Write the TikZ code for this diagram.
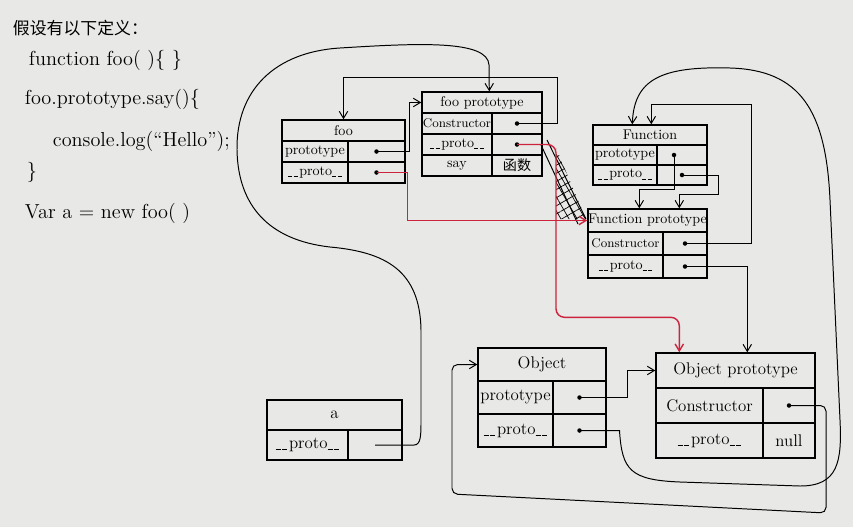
\documentclass[tikz,border=0pt]{standalone}
\usepackage{fontspec}
\newfontfamily\cjk{Noto Sans CJK SC}
\usetikzlibrary{arrows.meta,calc,fit,patterns.meta}
\definecolor{paper}{RGB}{232,232,230}
\definecolor{redpen}{RGB}{205,35,60}
\tikzset{
	cell/.style={draw, line width=1pt, inner sep=0pt},
	link/.style={line width=0.7pt, -{Straight Barb[length=5pt,width=6pt]}},
	redlink/.style={link, draw=redpen, line width=1pt},
	code/.style={anchor=west, font=\Large},
}
% short hand drawn underscores
\newcommand{\us}{\rule[-1pt]{0.3em}{0.5pt}\hspace{0.1em}}
\newcommand{\proto}{\us\us proto\us\us}
% object box: [font] name, left, divider, right, top, row height, title, key/value rows
\newcommand{\jsobj}[9][\normalsize]{%
	\node[cell, fit={(#3,#6) (#5,#6+#7)}, label={[font=#1]center:#8}] (#2) {};
	\foreach \k/\v [count=\i] in {#9}{
		\node[cell, fit={(#3,#6+\i*#7) (#4,#6+\i*#7+#7)}, label={[font=#1]center:\k}] (#2-k\i) {};
		\node[cell, fit={(#4,#6+\i*#7) (#5,#6+\i*#7+#7)}, label={[font=#1]center:\v}] (#2-v\i) {};
	}%
}

\begin{document}
\begin{tikzpicture}[x=0.025cm, y=-0.025cm]
	\fill[paper] (0,0) rectangle (853,527);
	\useasboundingbox (0,0) rectangle (853,527);
	
	% code
	\node[anchor=west, font=\large\cjk] (title) at (8,28) {假设有以下定义：};
	\node[code] (l1) at (24,60) {function foo( )\{ \}};
	\node[code] (l2) at (20,99) {foo.prototype.say()\{};
	\node[code] (l3) at (48,141) {console.log(“Hello”);};
	\node[code] (l4) at (22,172) {\}};
	\node[code] (l5) at (20,213) {Var a = new foo( )};
	
	% crossed out arrow
	\fill[pattern={Hatch[distance=5pt,angle=30,line width=0.5pt]}] (556,148) -- (586,219) -- (556,219) -- cycle;
	\draw[line width=0.7pt] (547,140) -- (586,219);
	\draw[line width=0.7pt] (541,145) -- (578,224);
	
	% objects
	\jsobj{foo}{282}{348}{405}{120}{21}{foo}{prototype/{}, \proto/{}}
	\jsobj{fooproto}{422}{492}{542}{92}{21}{foo prototype}{{\small Constructor}/{}, \proto/{}, say/{\cjk 函数}}
	\jsobj{F}{593}{657}{707}{125}{20}{Function}{prototype/{}, \proto/{}}
	\jsobj{Fproto}{588}{663}{707}{209}{23}{Function prototype}{{\small Constructor}/{}, \proto/{}}
	\jsobj[\large]{O}{478}{553}{606}{348}{33}{Object}{prototype/{}, \proto/{}}
	\jsobj[\large]{Oproto}{656}{763}{815}{353}{35}{Object prototype}{Constructor/{}, \proto/null}
	\jsobj[\large]{a}{267}{348}{402}{400}{30}{a}{\proto/{}}
	
	% dots
	\foreach \c in {foo-v1,foo-v2,fooproto-v1,fooproto-v2,F-v2,Fproto-v1,Fproto-v2,O-v1,O-v2,Oproto-v1}
	\fill (\c.center) circle (1.6pt);
	\fill ($(F-v1.center)+(-8,0)$) circle (1.6pt);
	
	% foo
	\draw[link] (foo-v1.center) -| ($(fooproto.west)+(-12,0)$) -- (fooproto.west);
	\draw[link] (fooproto-v1.center) -- ++(40,0) |- ($(foo.north)+(0,-42)$) -- (foo.north);
	\draw[redlink] (foo-v2.center) -| ($(Fproto.west)+(-180,0)$) -- (Fproto.west);
	\draw[redlink, rounded corners=6pt] (fooproto-v2.center) -- ++(39,0) |- ($(Oproto.north west)+(24,-35)$) -- ($(Oproto.north west)+(24,0)$);
	
	% Function
	\draw[link] ($(F-v1.center)+(-8,0)$) |- ($(Fproto.north west)+(52,-19)$) -- ($(Fproto.north west)+(52,0)$);
	\draw[link] (F-v2.center) -- ++(36,0) |- ($(Fproto.north west)+(92,-14)$) -- ($(Fproto.north west)+(92,0)$);
	\draw[link] (Fproto-v1.center) -- ++(66,0) |- ($(F.north west)+(59,-20)$) -- ($(F.north west)+(59,0)$);
	\draw[link] (Fproto-v2.center) -| ($(Oproto.north west)+(92,0)$);
	
	% Object
	\draw[link] (O-v1.center) -| ($(Oproto.west)+(-28,0)$) -- (Oproto.west);
	\draw[link] (O-v2.center) -- ++(40,0) .. controls (622,470) and (630,480) .. (680,482) -- (800,486) .. controls (838,486) and (842,462) .. (840,420) -- (830,200) .. controls (826,110) and (800,70) .. (730,68) .. controls (660,66) and (634,80) .. ($(F.north west)+(40,0)$);
	\draw[link, rounded corners=4pt] (Oproto-v1.center) -| (826,513) -- (452,494) |- (O.west);
	
	% a
	\draw[link] (a-v1.center) -- (414,445) .. controls (421,445) and (421,435) .. (421,420) -- (421,330) .. controls (420,270) and (385,252) .. (330,247) .. controls (268,240) and (238,205) .. (237,150) .. controls (236,90) and (275,52) .. (340,48) .. controls (420,43) and (488,40) .. (489,65) -- ($(fooproto.north west)+(68,0)$);
\end{tikzpicture}
\end{document}
